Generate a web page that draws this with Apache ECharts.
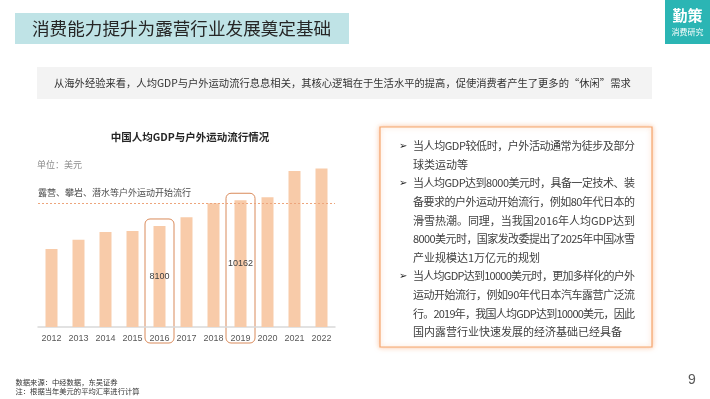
<!DOCTYPE html>
<html><head><meta charset="utf-8">
<script src="https://cdn.jsdelivr.net/npm/echarts@6/dist/echarts.min.js"></script>
<style>html,body{margin:0;padding:0;background:#fff}#c{width:710px;height:399px}</style>
</head><body><div id="c"></div>
<script>
const years = ['2012','2013','2014','2015','2016','2017','2018','2019','2020','2021','2022'];
const gdp = [6250,7000,7620,7700,8100,8800,9920,10162,10400,12510,12700];
const labeledYears = ['2016','2019'];
const thresholdValue = 9920;
const pageTitle = '消费能力提升为露营行业发展奠定基础';
const bandText = '从海外经验来看，人均GDP与户外运动流行息息相关，其核心逻辑在于生活水平的提高，促使消费者产生了更多的“休闲”需求';
const chartTitle = '中国人均GDP与户外运动流行情况';
const unitText = '单位：美元';
const thresholdText = '露营、攀岩、潜水等户外运动开始流行';
// [bullet?, text, justify?]
const bulletLines = [
  [true,'当人均GDP较低时，户外活动通常为徒步及部分',true],
  [false,'球类运动等',false],
  [true,'当人均GDP达到8000美元时，具备一定技术、装',true],
  [false,'备要求的户外运动开始流行，例如80年代日本的',true],
  [false,'滑雪热潮。同理，当我国2016年人均GDP达到',true],
  [false,'8000美元时，国家发改委提出了2025年中国冰雪',true],
  [false,'产业规模达1万亿元的规划',false],
  [true,'当人均GDP达到10000美元时，更加多样化的户外',true],
  [false,'运动开始流行，例如90年代日本汽车露营广泛流',true],
  [false,'行。2019年，我国人均GDP达到10000美元，因此',true],
  [false,'国内露营行业快速发展的经济基础已经具备',false]
];
const footnotes = ['数据来源：中经数据，东吴证券','注：根据当年美元的平均汇率进行计算'];

const CJK = '"Noto Sans CJK SC","Noto Sans",sans-serif';
const LAT = '"Liberation Sans",Arial,sans-serif';
const chart = echarts.init(document.getElementById('c'));

const barData = gdp.map((v,i)=> labeledYears.includes(years[i]) ? {value:v,label:{show:true}} : v);

chart.setOption({
  animation:false,
  grid:{left:38,width:297,top:152.4,bottom:72},
  xAxis:{type:'category',data:years,
    axisLine:{lineStyle:{color:'#d9d9d9',width:1.5}},
    axisTick:{show:false},
    axisLabel:{color:'#595959',fontSize:9,fontFamily:LAT,margin:7,interval:0}},
  yAxis:{type:'value',min:0,max:14000,show:false,splitLine:{show:false}},
  series:[{type:'bar',data:barData,barWidth:12,
    itemStyle:{color:'#f8cba9'},
    label:{show:false,position:'inside',color:'#404040',fontSize:9,fontFamily:LAT},
    markLine:{silent:true,symbol:'none',label:{show:false},
      lineStyle:{color:'#eda57c',type:[2,2],width:1},
      data:[{yAxis:thresholdValue}]}
  }]
});

const g = [];
// title banner
g.push({type:'rect',shape:{x:15,y:13,width:334,height:31},style:{fill:'#bfe3e6'}});
g.push({type:'text',style:{text:pageTitle,x:32,y:28.5,font:'17.6px '+CJK,fill:'#262626',textVerticalAlign:'middle'}});
// logo
g.push({type:'rect',shape:{x:665,y:0,width:45,height:44},style:{fill:'#2bb5b4'}});
g.push({type:'text',style:{text:'勤策',x:687.5,y:15,font:'bold 15px '+CJK,fill:'#fff',textAlign:'center',textVerticalAlign:'middle'}});
g.push({type:'text',style:{text:'消费研究',x:687.5,y:32,font:'8px '+CJK,fill:'#fff',textAlign:'center',textVerticalAlign:'middle'}});
// grey band
g.push({type:'rect',shape:{x:37,y:67,width:615,height:32},style:{fill:'#f3f3f3'}});
g.push({type:'text',style:{text:bandText,x:54,y:83.5,font:'10.3px '+CJK,fill:'#333',textVerticalAlign:'middle'}});
// chart texts
g.push({type:'text',style:{text:chartTitle,x:190,y:137,font:'bold 10.5px '+CJK,fill:'#262626',textAlign:'center',textVerticalAlign:'middle'}});
g.push({type:'text',style:{text:unitText,x:37,y:165,font:'9px '+CJK,fill:'#8c8c8c',textVerticalAlign:'middle'}});
g.push({type:'text',style:{text:thresholdText,x:38,y:193,font:'9px '+CJK,fill:'#4d4d4d',textVerticalAlign:'middle'}});
// right box
g.push({type:'rect',shape:{x:380,y:127,width:272,height:220},style:{fill:'#fff',stroke:'#f6a56d',lineWidth:1.2,shadowBlur:5,shadowColor:'rgba(246,150,90,0.55)'}});
const bodyFont = '11px '+CJK;
const mctx = document.createElement('canvas').getContext('2d');
mctx.font = bodyFont;
const X0 = 413, X1 = 635;
bulletLines.forEach((l,i)=>{
  const y = 146 + i*18.6;
  if(l[0]) g.push({type:'text',style:{text:'➢',x:399,y:y,font:'10px "DejaVu Sans",sans-serif',fill:'#222',textVerticalAlign:'middle'}});
  if(!l[2]){
    g.push({type:'text',style:{text:l[1],x:X0,y:y,font:bodyFont,fill:'#404040',textVerticalAlign:'middle'}});
  } else {
    const chars = Array.from(l[1]);
    const ws = chars.map(c=>mctx.measureText(c).width);
    const total = ws.reduce((a,b)=>a+b,0);
    const gap = (X1-X0-total)/(chars.length-1);
    let x = X0;
    chars.forEach((c,k)=>{
      g.push({type:'text',style:{text:c,x:x,y:y,font:bodyFont,fill:'#404040',textVerticalAlign:'middle'}});
      x += ws[k]+gap;
    });
  }
});
// footer
footnotes.forEach((t,i)=>g.push({type:'text',style:{text:t,x:15.5,y:382+i*9.7,font:'7.3px '+CJK,fill:'#333',textVerticalAlign:'middle'}}));
g.push({type:'text',style:{text:'9',x:692,y:380,font:'14px '+LAT,fill:'#595959',textAlign:'center',textVerticalAlign:'middle'}});
// highlight boxes
labeledYears.forEach(yr=>{
  const idx = years.indexOf(yr);
  const cx = chart.convertToPixel({xAxisIndex:0},yr);
  const top = chart.convertToPixel({yAxisIndex:0},gdp[idx]);
  g.push({type:'rect',shape:{x:cx-14.5,y:top-7,width:29,height:343-(top-7),r:5},style:{fill:'none',stroke:'#d98a5a',lineWidth:1}});
});
chart.setOption({graphic:g});
</script></body></html>
